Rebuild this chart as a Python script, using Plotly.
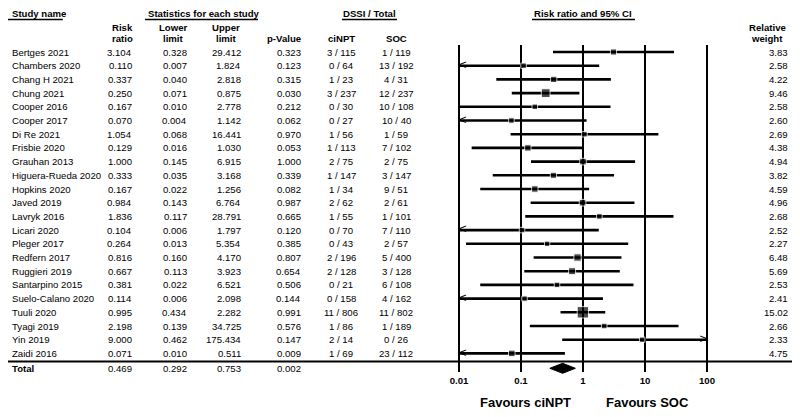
import numpy as np
import plotly.graph_objects as go

studies = ["Bertges 2021", "Chambers 2020", "Chang H 2021", "Chung 2021", "Cooper 2016",
           "Cooper 2017", "Di Re 2021", "Frisbie 2020", "Grauhan 2013", "Higuera-Rueda 2020",
           "Hopkins 2020", "Javed 2019", "Lavryk 2016", "Licari 2020", "Pleger 2017",
           "Redfern 2017", "Ruggieri 2019", "Santarpino 2015", "Suelo-Calano 2020",
           "Tuuli 2020", "Tyagi 2019", "Yin 2019", "Zaidi 2016"]
risk_ratio = [3.104, 0.110, 0.337, 0.250, 0.167, 0.070, 1.054, 0.129, 1.000, 0.333, 0.167,
              0.984, 1.836, 0.104, 0.264, 0.816, 0.667, 0.381, 0.114, 0.995, 2.198, 9.000, 0.071]
lower = [0.328, 0.007, 0.040, 0.071, 0.010, 0.004, 0.068, 0.016, 0.145, 0.035, 0.022,
         0.143, 0.117, 0.006, 0.013, 0.160, 0.113, 0.022, 0.006, 0.434, 0.139, 0.462, 0.010]
upper = [29.412, 1.824, 2.818, 0.875, 2.778, 1.142, 16.441, 1.030, 6.915, 3.168, 1.256,
         6.764, 28.791, 1.797, 5.354, 4.170, 3.923, 6.521, 2.098, 2.282, 34.725, 175.434, 0.511]
p_value = [0.323, 0.123, 0.315, 0.030, 0.212, 0.062, 0.970, 0.053, 1.000, 0.339, 0.082,
           0.987, 0.665, 0.120, 0.385, 0.807, 0.654, 0.506, 0.144, 0.991, 0.576, 0.147, 0.009]
cinpt = ["3 / 115", "0 / 64", "1 / 23", "3 / 237", "0 / 30", "0 / 27", "1 / 56", "1 / 113",
         "2 / 75", "1 / 147", "1 / 34", "2 / 62", "1 / 55", "0 / 70", "0 / 43", "2 / 196",
         "2 / 128", "0 / 21", "0 / 158", "11 / 806", "1 / 86", "2 / 14", "1 / 69"]
soc = ["1 / 119", "13 / 192", "4 / 31", "12 / 237", "10 / 108", "10 / 40", "1 / 59", "7 / 102",
       "2 / 75", "3 / 147", "9 / 51", "2 / 61", "1 / 101", "7 / 110", "2 / 57", "5 / 400",
       "3 / 128", "6 / 108", "4 / 162", "11 / 802", "1 / 189", "0 / 26", "23 / 112"]
weight = [3.83, 2.58, 4.22, 9.46, 2.58, 2.60, 2.69, 4.38, 4.94, 3.82, 4.59, 4.96, 2.68,
          2.52, 2.27, 6.48, 5.69, 2.53, 2.41, 15.02, 2.66, 2.33, 4.75]
# rows drawn with a left arrow in the original (CI runs past 0.01)
left_arrow = ["Chambers 2020", "Cooper 2017", "Licari 2020", "Suelo-Calano 2020", "Zaidi 2016"]

total = dict(rr=0.469, lo=0.292, hi=0.753, p=0.002)
ticks = [0.01, 0.1, 1, 10, 100]

# html body has an 8px margin -> keep the figure inside 784x401 so no scrollbars
OFF = 8
W, H = 800 - 2 * OFF, 417 - 2 * OFF
fnt = "Liberation Sans, Arial, sans-serif"
fs = 9.6
row_y = [52 + 13.7 * i for i in range(len(studies))]
tot_y = 368.3
xmin, xmax = 0.01, 100

# squeeze the outer bands (name column, weight column, header, footer), keep the rest 1:1
xk_src, xk_dst = [0, 145, 730, 800], [OFF, 145, 730, 800 - OFF]
yk_src, yk_dst = [0, 5, 12, 23, 34, 45, 372, 383.5, 410, 417], \
                 [OFF, 13.5, 19.5, 27.5, 38, 45, 372, 382, 402, 417 - OFF]


def px(x):
    return (np.interp(x, xk_src, xk_dst) - OFF) / W


def my(y):
    return float(np.interp(y, yk_src, yk_dst))


fig = go.Figure()

# reference lines
for t in ticks:
    fig.add_trace(go.Scatter(x=[t, t], y=[45, 372], mode="lines",
                             line=dict(color="black", width=2), hoverinfo="skip"))

# CIs
for i, s in enumerate(studies):
    lo = max(lower[i], xmin)
    hi = min(upper[i], xmax)
    fig.add_trace(go.Scatter(x=[lo, hi], y=[row_y[i], row_y[i]], mode="lines",
                             line=dict(color="black", width=2.6), hoverinfo="skip"))

fig.add_trace(go.Scatter(x=risk_ratio, y=row_y, mode="markers",
                         marker=dict(symbol="square", color="black",
                                     size=[4.3 + 0.47 * w for w in weight]),
                         hoverinfo="skip"))

# arrows
la = [i for i, s in enumerate(studies) if s in left_arrow]
fig.add_trace(go.Scatter(x=[xmin] * len(la), y=[row_y[i] for i in la], mode="text",
                         text=["<"] * len(la), textposition="middle right",
                         textfont=dict(family=fnt, size=13, color="black")))
ra = [i for i in range(len(studies)) if upper[i] > xmax]
fig.add_trace(go.Scatter(x=[xmax] * len(ra), y=[row_y[i] for i in ra], mode="text",
                         text=[">"] * len(ra), textposition="middle left",
                         textfont=dict(family=fnt, size=13, color="black")))

# total diamond
fig.add_trace(go.Scatter(x=[total["lo"], total["rr"], total["hi"], total["rr"], total["lo"]],
                         y=[tot_y, tot_y - 5, tot_y, tot_y + 5, tot_y],
                         mode="lines", fill="toself", fillcolor="black",
                         line=dict(color="black", width=1), hoverinfo="skip"))

# tick labels
fig.add_trace(go.Scatter(x=ticks, y=[my(383.5)] * len(ticks), mode="text",
                         text=["<b>%g</b>" % t for t in ticks],
                         textfont=dict(family=fnt, size=fs, color="black")))

ann = []


def txt(x, y, s, anchor="right", bold=False, size=fs):
    ann.append(dict(x=px(x), y=my(y), xref="paper", yref="y",
                    text=("<b>%s</b>" % s) if bold else s,
                    showarrow=False, xanchor=anchor, yanchor="middle",
                    font=dict(family=fnt, size=size, color="black")))


for i, s in enumerate(studies):
    y = row_y[i]
    txt(2, y, s, "left")
    txt(133, y, "%.3f" % risk_ratio[i])
    txt(189, y, "%.3f" % lower[i])
    txt(243, y, "%.3f" % upper[i])
    txt(303, y, "%.3f" % p_value[i])
    txt(341, y, cinpt[i], "center")
    txt(396, y, soc[i], "center")
    txt(798, y, "%.2f" % weight[i])

txt(2, tot_y, "Total", "left", bold=True)
txt(133, tot_y, "%.3f" % total["rr"])
txt(189, tot_y, "%.3f" % total["lo"])
txt(243, tot_y, "%.3f" % total["hi"])
txt(303, tot_y, "%.3f" % total["p"])

# headers
txt(2, 5, "Study name", "left", bold=True)
txt(204, 5, "Statistics for each study", "center", bold=True)
txt(369, 5, "DSSI / Total", "center", bold=True)
txt(583, 5, "Risk ratio and 95% CI", "center", bold=True)
for cx, l1, l2 in [(121, "Risk", "ratio"), (173, "Lower", "limit"), (226, "Upper", "limit"),
                   (772, "Relative", "weight")]:
    txt(cx, 23, l1, "center", bold=True)
    txt(cx, 34, l2, "center", bold=True)
txt(284, 34, "p-Value", "center", bold=True)
txt(341, 34, "ciNPT", "center", bold=True)
txt(396, 34, "SOC", "center", bold=True)

txt(525, 410, "Favours ciNPT", "center", bold=True, size=13)
txt(647, 410, "Favours SOC", "center", bold=True, size=13)

shapes = []
for x0, x1, y in [(0, 58, 12), (145, 258, 12), (342, 397, 12), (532, 635, 12),
                  (0, 800, 361.5)]:
    shapes.append(dict(type="line", xref="paper", yref="y", x0=px(x0), x1=px(x1),
                       y0=my(y), y1=my(y),
                       line=dict(color="black", width=1.3 if y < 20 else 2)))

lx0 = -2 - 19 / 62
lx1 = 2 + 23 / 62
fig.update_layout(
    width=W, height=H, margin=dict(l=0, r=0, t=0, b=0),
    paper_bgcolor="white", plot_bgcolor="rgba(0,0,0,0)",
    showlegend=False, annotations=ann, shapes=shapes,
    xaxis=dict(type="log", domain=[px(440), px(730)], range=[lx0, lx1],
               visible=False, fixedrange=True),
    yaxis=dict(range=[417 - OFF, OFF], domain=[0, 1], visible=False, fixedrange=True),
)

fig.write_html("out.html")
